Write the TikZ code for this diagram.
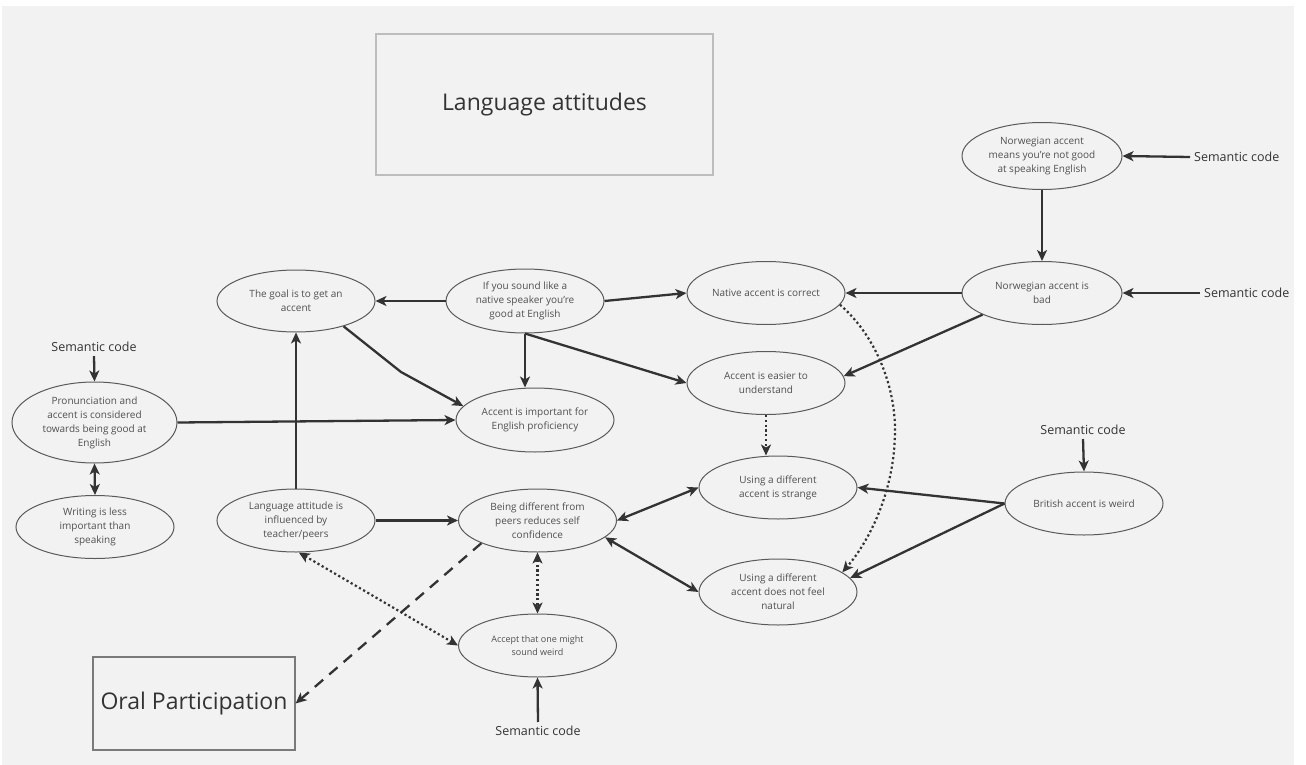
\documentclass[tikz,border=0pt]{standalone}
\usepackage{fontspec}
\setmainfont{Open Sans}
\usetikzlibrary{shapes.geometric,arrows.meta}

\definecolor{canvas}{HTML}{F2F2F2}
\definecolor{ink}{HTML}{333333}
\definecolor{bubbletext}{HTML}{505050}
\definecolor{bubbleline}{HTML}{5A5A5A}
\definecolor{lightframe}{HTML}{BDBDBD}
\definecolor{darkframe}{HTML}{7A7A7A}

\tikzset{
  bubble/.style={ellipse, draw=bubbleline, line width=1pt, inner sep=0pt,
    align=center, text=bubbletext, font=\fontsize{10}{14}\selectfont,
    minimum width=158pt, minimum height=63pt},
  titlebox/.style={rectangle, line width=1.2pt, inner sep=0pt, text=ink,
    font=\fontsize{23}{28}\selectfont},
  codelabel/.style={text=ink, font=\fontsize{12.5}{15}\selectfont, inner sep=4pt},
  tip/.style={-{Stealth[length=11pt,width=10pt,inset=3pt]}},
  tips/.style={{Stealth[length=11pt,width=10pt,inset=3pt]}-{Stealth[length=11pt,width=10pt,inset=3pt]}},
  link/.style={draw=ink, line width=2.3pt},
  dotlink/.style={draw=ink, line width=2.2pt, dash pattern=on 2.2pt off 2.6pt},
  dashlink/.style={draw=ink, line width=2.3pt, dash pattern=on 11pt off 8pt},
}

\begin{document}
\begin{tikzpicture}[x=1pt, y=-1pt]
  % page and canvas
  \fill[white] (0,0) rectangle (1306,765);
  \useasboundingbox (0,0) rectangle (1306,765);
  \fill[canvas] (2,6) rectangle (1294,765);

  % headings
  \node[titlebox, draw=lightframe, minimum width=337pt, minimum height=141pt]
    (lang) at (544.5,104.5) {Language attitudes};
  \node[titlebox, draw=darkframe, minimum width=202pt, minimum height=93pt]
    (oral) at (194,703.5) {Oral Participation};

  % statements
  \node[bubble, minimum width=160pt, minimum height=67pt] (nm) at (1042,156)
    {Norwegian accent\\means you're not good\\at speaking English};
  \node[bubble, minimum width=160pt] (nb) at (1042,293) {Norwegian accent is\\bad};
  \node[bubble] (nc) at (766,293) {Native accent is correct};
  \node[bubble, minimum height=64pt] (sl) at (525,301)
    {If you sound like a\\native speaker you're\\good at English};
  \node[bubble] (ez) at (766,383) {Accent is easier to\\understand};
  \node[bubble, minimum height=64pt] (ai) at (535,420)
    {Accent is important for\\English proficiency};
  \node[bubble, minimum height=62pt] (gl) at (296,301) {The goal is to get an\\accent};
  \node[bubble, minimum width=165pt, minimum height=81pt] (pr) at (94.5,422.5)
    {Pronunciation and\\accent is considered\\towards being good at\\English};
  \node[bubble] (wr) at (95,527) {Writing is less\\important than\\speaking};
  \node[bubble] (la) at (296,520.5) {Language attitude is\\influenced by\\teacher/peers};
  \node[bubble] (bd) at (537.5,520.5) {Being different from\\peers reduces self\\confidence};
  \node[bubble] (st) at (778,487.5) {Using a different\\accent is strange};
  \node[bubble, minimum height=66pt] (nn) at (778,592)
    {Using a different\\accent does not feel\\natural};
  \node[bubble, font=\fontsize{9}{13.5}\selectfont] (ac) at (537.5,645.5)
    {Accept that one might\\sound weird};
  \node[bubble] (br) at (1084,503.5) {British accent is weird};

  % code labels
  \node[codelabel, anchor=west] (c1) at (1190,157) {Semantic code};
  \node[codelabel, anchor=west] (c2) at (1200,293) {Semantic code};
  \node[codelabel] (c3) at (94,347) {Semantic code};
  \node[codelabel] (c4) at (1083,430) {Semantic code};
  \node[codelabel] (c5) at (538,731) {Semantic code};

  \draw[link, tip] (c1.west) -- (nm.east);
  \draw[link, tip] (c2.west) -- (nb.east);
  \draw[link, tip] (c3.south) -- (pr.north);
  \draw[link, tip] (c4.south) -- (br.north);
  \draw[link, tip] (c5.north) -- (ac.south);

  % solid links
  \draw[link, tip] (nm.south) -- (nb.north);
  \draw[link, tip] (nb.west) -- (nc.east);
  \draw[link, tip] (nb.200) -- (ez.5);
  \draw[link, tip] (sl.west) -- (gl.east);
  \draw[link, tip] (sl.east) -- (nc.west);
  \draw[link, tip] (sl.south) -- (sl.south |- ai.north);
  \draw[link, tip] (sl.south) -- (ez.west);
  \coordinate (bend) at (401,372);
  \draw[link, tip] (gl.332) -- (bend) -- (ai.169);
  \draw[link, tip] (pr.east) -- (ai.west);
  \draw[link, tip] (la.north) -- (gl.south);
  \draw[link, tip] (la.east) -- (bd.west);
  \draw[link, tips] (pr.south) -- (wr.north);
  \draw[link, tip] (br.west) -- (st.east);
  \draw[link, tip] (br.west) -- (nn.11);
  \draw[link, tips] (bd.east) -- (st.west);
  \draw[link, tips] (bd.346) -- (nn.west);

  % dotted links
  \draw[dotlink, tip] (ez.south) -- (ez.south |- st.north);
  \coordinate (arc) at (895,430);
  \draw[dotlink, tip] (nc.351) .. controls (875,335) and (895,385) .. (arc)
    .. controls (895,490) and (870,540) .. (nn.17);
  \draw[dotlink, tips] (bd.south) -- (bd.south |- ac.north);
  \draw[dotlink, tips] (la.275) -- (ac.west);

  % dashed link
  \draw[dashlink, tip] (bd.202) -- (oral.east);
\end{tikzpicture}
\end{document}
